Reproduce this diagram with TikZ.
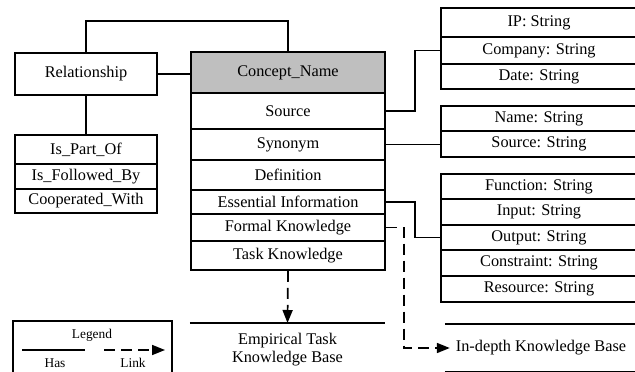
\documentclass[tikz,border=0pt]{standalone}
\usepackage{fontspec}
\setmainfont{Liberation Serif}
\usetikzlibrary{arrows.meta}

\tikzset{
  cell/.style={draw, line width=1.7pt, inner sep=0pt, align=center,
               font=\fontsize{16.3}{19}\selectfont},
  maincell/.style={cell, minimum width=194pt},
  sidecell/.style={cell, minimum width=142pt},
  attrcell/.style={cell, minimum width=196pt},
  has/.style={line width=1.7pt},
  link/.style={line width=1.7pt, dash pattern=on 11pt off 6pt,
               -{Triangle[length=13pt,width=10pt]}},
  kbase/.style={inner sep=0pt, align=center, minimum width=195pt,
                font=\fontsize{16.3}{19}\selectfont},
  legendtext/.style={inner sep=0pt, font=\fontsize{13.4}{16}\selectfont}
}

\begin{document}
\begin{tikzpicture}[x=1pt,y=-1pt]
\useasboundingbox (0,0) rectangle (635,372);

% central concept table
\node[maincell, fill=black!25, minimum height=41pt] (concept) at (288,72.5) {Concept\_Name};
\node[maincell, minimum height=36pt] (source)    at (288,111)   {Source};
\node[maincell, minimum height=31pt] (synonym)   at (288,144.5) {Synonym};
\node[maincell, minimum height=30pt] (definition) at (288,175)  {Definition};
\node[maincell, minimum height=24pt] (essential) at (288,202)   {Essential Information};
\node[maincell, minimum height=27pt] (formal)    at (288,227.5) {Formal Knowledge};
\node[maincell, minimum height=29pt] (task)      at (288,255.5) {Task Knowledge};

% relationship table
\node[sidecell, minimum height=42pt] (relation) at (86,74)    {Relationship};
\node[sidecell, minimum height=29pt] (partof)   at (86,149.5) {Is\_Part\_Of};
\node[sidecell, minimum height=25pt] (followed) at (86,176.5) {Is\_Followed\_By};
\node[sidecell, minimum height=24pt] (coop)     at (86,201)   {Cooperated\_With};

% source attributes
\node[attrcell, minimum height=29pt] (ip)      at (539,22.5) {IP: String};
\node[attrcell, minimum height=27pt] (company) at (539,50.5) {Company: String};
\node[attrcell, minimum height=25pt] (date)    at (539,76.5) {Date: String};

% synonym attributes
\node[attrcell, minimum height=25pt] (name)   at (539,118.5) {Name: String};
\node[attrcell, minimum height=26pt] (srcstr) at (539,144)   {Source: String};

% essential information attributes
\node[attrcell, minimum height=25pt] (function)   at (539,186.5) {Function: String};
\node[attrcell, minimum height=26pt] (input)      at (539,212)   {Input: String};
\node[attrcell, minimum height=25pt] (output)     at (539,237.5) {Output: String};
\node[attrcell, minimum height=26pt] (constraint) at (539,263)   {Constraint: String};
\node[attrcell, minimum height=26pt] (resource)   at (539,289)   {Resource: String};

% knowledge bases
\node[kbase, anchor=north, minimum height=52pt] (empirical) at (287.5,323)
  {Empirical Task\\[-1pt]Knowledge Base};
\draw[has] (empirical.north west) -- (empirical.north east);
\node[kbase, minimum width=192pt, minimum height=47pt] (indepth) at (541,348)
  {In-depth Knowledge Base};
\draw[has] (indepth.north west) -- (indepth.north east);
\draw[has] (indepth.south west) -- (indepth.south east);

% "has" connectors
\coordinate (toprail) at (0,21);
\draw[has] (relation.north) |- (toprail -| concept.north) -- (concept.north);
\draw[has] (relation.east) -- (relation.east -| concept.west);
\draw[has] (relation.south) -- (partof.north);
\draw[has] (source.east) -- ++(29,0) |- (company.west);
\draw[has] (synonym.east) -- (synonym.east -| srcstr.west);
\draw[has] (essential.east) -- ++(29,0) |- (output.west);

% "link" connectors
\draw[link] (task.south) -- (empirical.north);
\draw[link] (formal.east) -- ++(18,0) |- ([xshift=5pt]indepth.west);

% legend
\node[draw, line width=1.7pt, minimum width=159pt, minimum height=62pt, inner sep=0pt]
  (legend) at (92.5,352) {};
\node[legendtext] (legendtitle) at (92,335) {Legend};
\coordinate (hasA) at (22,350);
\coordinate (hasB) at (85,350);
\coordinate (linkA) at (104,350);
\coordinate (linkB) at (165,350);
\draw[has] (hasA) -- (hasB);
\draw[link] (linkA) -- (linkB);
\node[legendtext] (haslabel) at (55,363) {Has};
\node[legendtext] (linklabel) at (133,363) {Link};
\end{tikzpicture}
\end{document}
